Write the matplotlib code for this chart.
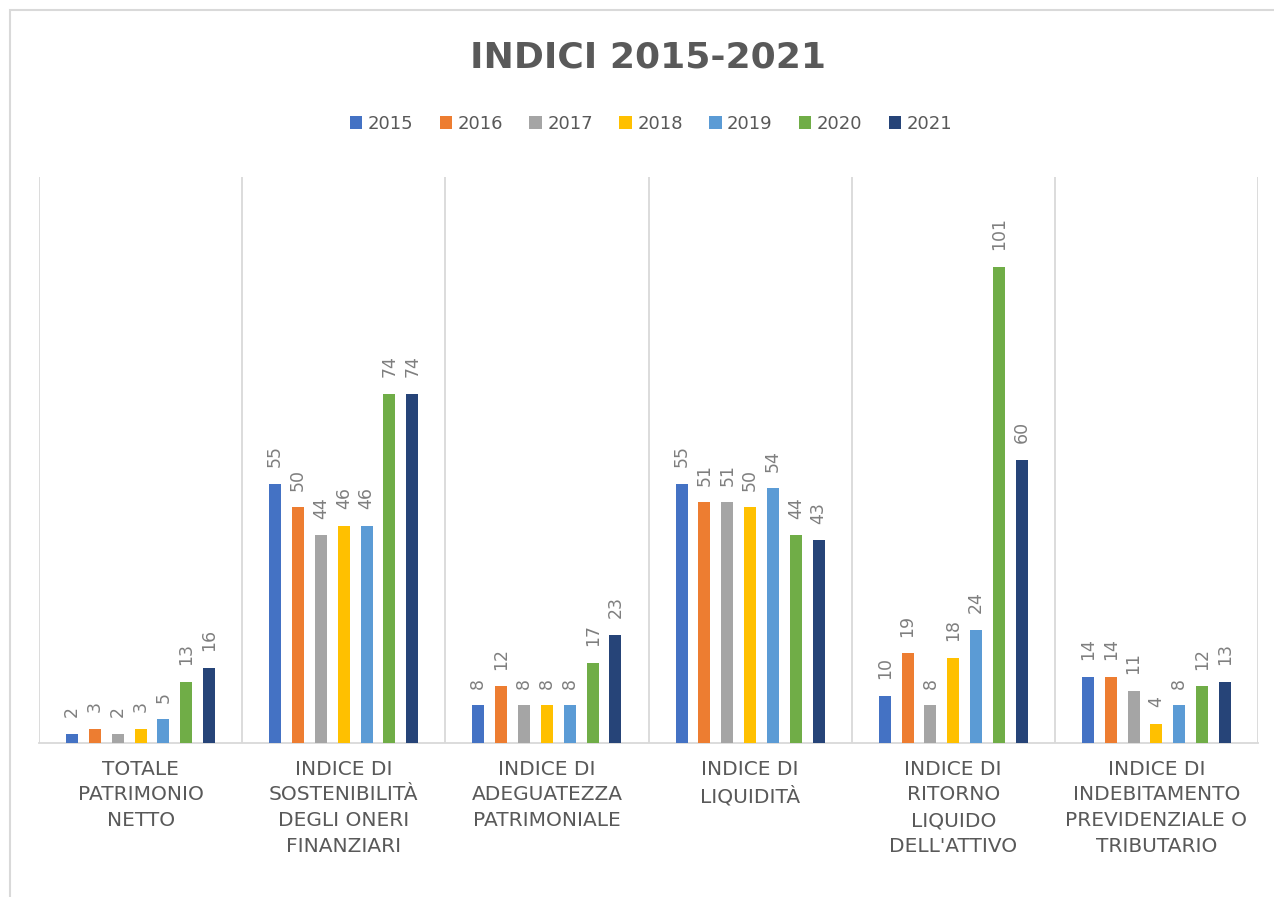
import matplotlib.pyplot as plt
import matplotlib.patches as mpatches
import numpy as np

# categorie e valori
categorie = ["TOTALE\nPATRIMONIO\nNETTO",
             "INDICE DI\nSOSTENIBILITÀ\nDEGLI ONERI\nFINANZIARI",
             "INDICE DI\nADEGUATEZZA\nPATRIMONIALE",
             "INDICE DI\nLIQUIDITÀ",
             "INDICE DI\nRITORNO\nLIQUIDO\nDELL'ATTIVO",
             "INDICE DI\nINDEBITAMENTO\nPREVIDENZIALE O\nTRIBUTARIO"]
anni = ["2015", "2016", "2017", "2018", "2019", "2020", "2021"]
v2015 = [2, 55, 8, 55, 10, 14]
v2016 = [3, 50, 12, 51, 19, 14]
v2017 = [2, 44, 8, 51, 8, 11]
v2018 = [3, 46, 8, 50, 18, 4]
v2019 = [5, 46, 8, 54, 24, 8]
v2020 = [13, 74, 17, 44, 101, 12]
v2021 = [16, 74, 23, 43, 60, 13]
serie = [v2015, v2016, v2017, v2018, v2019, v2020, v2021]
colori = ["#4472C4", "#ED7D31", "#A5A5A5", "#FFC000", "#5B9BD5", "#70AD47", "#264478"]

plt.rcParams['font.family'] = ['DejaVu Sans']

fig = plt.figure(figsize=(12.74, 8.97), dpi=100)
ax = fig.add_axes([39/1274, 154/897, (1258-39)/1274, (743-177)/897])

x = np.arange(len(categorie))
passo = 0.1125
larg = 0.059
for i, (vals, col, anno) in enumerate(zip(serie, colori, anni)):
    pos = x + (i - 3) * passo
    bars = ax.bar(pos, vals, width=larg, color=col, label=anno, zorder=3)
    for b, v in zip(bars, vals):
        ax.annotate(str(v), (b.get_x() + b.get_width()/2, v), xytext=(0, 12),
                    textcoords="offset points", rotation=90, ha="center", va="bottom",
                    fontsize=12.5, color="#7f7f7f")

ax.set_xlim(-0.5, len(categorie) - 0.5)
ax.set_ylim(0, 120)
for b in np.arange(-0.5, len(categorie), 1.0):
    ax.axvline(b, color="#d9d9d9", lw=1.3, zorder=1)
for s in ["top", "left", "right"]:
    ax.spines[s].set_visible(False)
ax.spines["bottom"].set_color("#d9d9d9")
ax.spines["bottom"].set_linewidth(1.3)
ax.set_yticks([])
ax.set_xticks(x)
ax.set_xticklabels(categorie, fontsize=14.5, color="#595959", linespacing=1.45)
ax.tick_params(axis="x", length=0, pad=12)

fig.text(0.5085, 1 - 58/897, "INDICI 2015-2021", ha="center", va="center",
         fontsize=26, fontweight="bold", color="#595959")

leg = fig.legend(loc="center", bbox_to_anchor=(0.511, 1 - 124/897), ncol=7, frameon=False,
                 fontsize=13, handlelength=0.7, handleheight=0.7, handletextpad=0.3,
                 columnspacing=1.45)
for t in leg.get_texts():
    t.set_color("#595959")

# cornice del grafico
fig.patches.append(mpatches.Rectangle((10/1274, -0.1), 2, 1 - 10/897 + 0.1, transform=fig.transFigure,
                                      fill=False, edgecolor="#d9d9d9", lw=1.5))

fig.savefig("out.png", dpi=100)
